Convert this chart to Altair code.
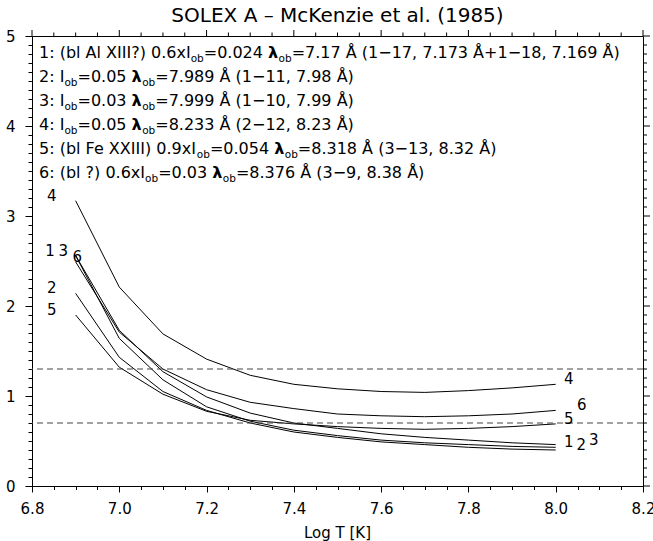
import altair as alt
import pandas as pd

# ---------------- data ----------------
log_t = [6.9, 7.0, 7.1, 7.2, 7.3, 7.4, 7.5, 7.6, 7.7, 7.8, 7.9, 8.0]
ratio_1 = [2.56, 1.64, 1.18, 0.88, 0.72, 0.62, 0.56, 0.51, 0.48, 0.46, 0.44, 0.43]
ratio_2 = [2.14, 1.43, 1.05, 0.84, 0.70, 0.60, 0.54, 0.49, 0.46, 0.43, 0.41, 0.40]
ratio_3 = [2.56, 1.73, 1.27, 0.99, 0.81, 0.70, 0.64, 0.58, 0.54, 0.51, 0.48, 0.46]
ratio_4 = [3.17, 2.21, 1.69, 1.41, 1.23, 1.13, 1.08, 1.05, 1.04, 1.06, 1.09, 1.13]
ratio_5 = [1.90, 1.32, 1.02, 0.83, 0.73, 0.69, 0.66, 0.64, 0.63, 0.64, 0.66, 0.69]
ratio_6 = [2.49, 1.71, 1.30, 1.07, 0.93, 0.86, 0.80, 0.78, 0.77, 0.78, 0.80, 0.84]
series_names = ["1", "2", "3", "4", "5", "6"]
limit_lines = [1.3, 0.7]

title_text = "SOLEX A – McKenzie et al. (1985)"
x_title_text = "Log T [K]"

legend_lines = [
    [("1: (bl Al XIII?) 0.6xI", "n"), ("ob", "s"), ("=0.024 ", "n"), ("λ", "b"), ("ob", "s"),
     ("=7.17 Å (1−17, 7.173 Å+1−18, 7.169 Å)", "n")],
    [("2: I", "n"), ("ob", "s"), ("=0.05 ", "n"), ("λ", "b"), ("ob", "s"), ("=7.989 Å (1−11, 7.98 Å)", "n")],
    [("3: I", "n"), ("ob", "s"), ("=0.03 ", "n"), ("λ", "b"), ("ob", "s"), ("=7.999 Å (1−10, 7.99 Å)", "n")],
    [("4: I", "n"), ("ob", "s"), ("=0.05 ", "n"), ("λ", "b"), ("ob", "s"), ("=8.233 Å (2−12, 8.23 Å)", "n")],
    [("5: (bl Fe XXIII) 0.9xI", "n"), ("ob", "s"), ("=0.054 ", "n"), ("λ", "b"), ("ob", "s"),
     ("=8.318 Å (3−13, 8.32 Å)", "n")],
    [("6: (bl ?) 0.6xI", "n"), ("ob", "s"), ("=0.03 ", "n"), ("λ", "b"), ("ob", "s"), ("=8.376 Å (3−9, 8.38 Å)", "n")],
]

# ---------------- layout / style ----------------
W, H = 611, 450
X0, X1, Y0, Y1 = 6.8, 8.2, 0.0, 5.0
FONT = "DejaVu Sans"

def to_x(px):
    return X0 + px * (X1 - X0) / W

def to_y(py):
    return Y1 - py * (Y1 - Y0) / H

# DejaVu Sans advance widths (em)
EM = {' ': 0.318, '(': 0.390, ')': 0.390, '+': 0.838, ',': 0.318, '-': 0.361, '.': 0.318,
      ':': 0.337, '=': 0.838, '?': 0.531, 'A': 0.684, 'F': 0.575, 'I': 0.295, 'X': 0.686,
      'b': 0.635, 'e': 0.615, 'l': 0.278, 'o': 0.612, 'x': 0.592, 'Å': 0.684, '−': 0.838,
      'λ': 0.592}
for d in "0123456789":
    EM[d] = 0.636

SIZES = {"n": 16, "s": 10.5, "b": 16}
def seg_width(text, style):
    w = sum(EM.get(c, 0.6) for c in text)
    if style == "b":
        w = 0.66 * len(text)
    return w * SIZES[style]

rows = []
for i, line in enumerate(legend_lines):
    px = 7.0
    base = 22.3 + 24 * i
    for text, style in line:
        py = base + (4 if style == "s" else 0)
        rows.append({"text": text, "style": style, "x": to_x(px), "y": to_y(py)})
        px += seg_width(text, style)
legend_df = pd.DataFrame(rows)

# curves
all_series = [ratio_1, ratio_2, ratio_3, ratio_4, ratio_5, ratio_6]
curve_rows = []
for name, vals in zip(series_names, all_series):
    for t, v in zip(log_t, vals):
        curve_rows.append({"series": name, "logT": t, "ratio": v})
curves_df = pd.DataFrame(curve_rows)

left_dx = {"1": -25.6, "2": -24, "3": -12.3, "4": -24, "5": -24, "6": 1.7}
right_dx = {"1": 13, "2": 25.5, "3": 38, "4": 13, "5": 13, "6": 26}
px_per_unit = W / (X1 - X0)
lab_rows = []
for name, vals in zip(series_names, all_series):
    lab_rows.append({"label": name, "x": log_t[0] + left_dx[name] / px_per_unit, "y": vals[0]})
    lab_rows.append({"label": name, "x": log_t[-1] + right_dx[name] / px_per_unit, "y": vals[-1]})
labels_df = pd.DataFrame(lab_rows)

rules_df = pd.DataFrame({"y": limit_lines})

x_vals = [round(X0 + 0.05 * i, 2) for i in range(29)]
y_vals = [round(0.1 * i, 1) for i in range(51)]
x_major_test = "abs(datum.value*5 - round(datum.value*5)) < 0.01"
y_major_test = "abs(datum.value - round(datum.value)) < 0.01"

x_tick_df = pd.DataFrame({"x": x_vals, "major": [abs(v * 5 - round(v * 5)) < 0.01 for v in x_vals]})
y_tick_df = pd.DataFrame({"y": y_vals, "major": [abs(v - round(v)) < 0.01 for v in y_vals]})

xscale = alt.Scale(domain=[X0, X1], nice=False, zero=False)
yscale = alt.Scale(domain=[Y0, Y1], nice=False, zero=False)

common_axis = dict(grid=False, domainColor="black", domainWidth=1, tickColor="black", tickWidth=1,
                   labelFont=FONT, labelFontSize=15, labelColor="black", labelOverlap=False,
                   labelFlush=False, labelBound=False, title=None)

x_bottom = alt.Axis(orient="bottom", values=x_vals,
                    tickSize={"condition": {"test": x_major_test, "value": 6}, "value": 3.5},
                    labelExpr=f"{x_major_test} ? format(datum.value, '.1f') : ''",
                    labelPadding=9, **common_axis)
y_left = alt.Axis(orient="left", values=y_vals,
                  tickSize={"condition": {"test": y_major_test, "value": 7}, "value": 4},
                  labelExpr=f"{y_major_test} ? format(datum.value, 'd') : ''",
                  labelPadding=10, **common_axis)

def X(field):
    return alt.X(field, scale=xscale, axis=x_bottom)

def Y(field):
    return alt.Y(field, scale=yscale, axis=y_left)

lines = alt.Chart(curves_df).mark_line(color="black", strokeWidth=1.0).encode(
    x=X("logT:Q"), y=Y("ratio:Q"), detail="series:N",
)

# ticks on the top and right frame edges
top_major = alt.Chart(x_tick_df).transform_filter("datum.major").mark_rule(color="black", strokeWidth=1).encode(
    x=X("x:Q"), y=alt.value(0), y2=alt.value(-6))
top_minor = alt.Chart(x_tick_df).transform_filter("!datum.major").mark_rule(color="black", strokeWidth=1).encode(
    x=X("x:Q"), y=alt.value(0), y2=alt.value(-3.5))
right_major = alt.Chart(y_tick_df).transform_filter("datum.major").mark_rule(color="black", strokeWidth=1).encode(
    y=Y("y:Q"), x=alt.value(W), x2=alt.value(W + 7))
right_minor = alt.Chart(y_tick_df).transform_filter("!datum.major").mark_rule(color="black", strokeWidth=1).encode(
    y=Y("y:Q"), x=alt.value(W), x2=alt.value(W + 4))

rules = alt.Chart(rules_df).mark_rule(color="#444444", strokeWidth=1.1, strokeDash=[6, 4]).encode(
    y=Y("y:Q"),
)

curve_labels = alt.Chart(labels_df).mark_text(font=FONT, fontSize=15, align="center",
                                               baseline="alphabetic", color="black").encode(
    x=X("x:Q"), y=Y("y:Q"), text="label:N",
)

def legend_layer(style, size, weight, data):
    return alt.Chart(data).transform_filter(alt.datum.style == style).mark_text(
        font=FONT, fontSize=size, fontWeight=weight, align="left", baseline="alphabetic", color="black"
    ).encode(x=X("x:Q"), y=Y("y:Q"), text="text:N")

leg_n = legend_layer("n", SIZES["n"], "normal", legend_df)
leg_s = legend_layer("s", SIZES["s"], "normal", legend_df)
leg_b = legend_layer("b", SIZES["b"], "bold", legend_df)

title = alt.Chart(pd.DataFrame({"t": [title_text]})).mark_text(
    font=FONT, fontSize=20, align="center", baseline="alphabetic", color="black"
).encode(x=alt.value(W / 2), y=alt.value(-14.5), text="t:N")

xtitle = alt.Chart(pd.DataFrame({"t": [x_title_text]})).mark_text(
    font=FONT, fontSize=15, align="center", baseline="alphabetic", color="black"
).encode(x=alt.value(W / 2), y=alt.value(502), text="t:N")

chart = alt.layer(lines, top_major, top_minor, right_major, right_minor, rules, curve_labels,
                  leg_n, leg_s, leg_b, title, xtitle).properties(
    width=W, height=H,
    autosize=alt.AutoSizeParams(type="none"),
    padding={"left": 32, "top": 36, "right": 10, "bottom": 55},
    background="white",
).configure_view(stroke="black", strokeWidth=1)

chart.save("out.html", embed_options={"renderer": "svg", "actions": False})
